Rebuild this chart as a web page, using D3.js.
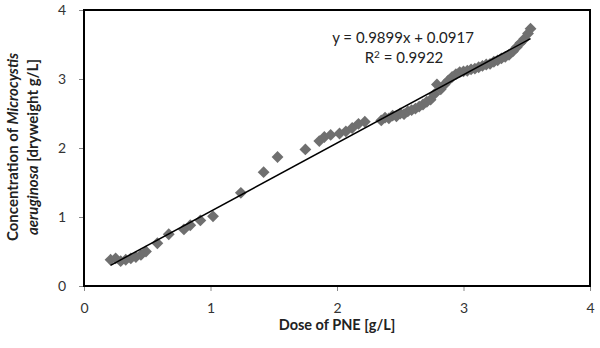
<!DOCTYPE html>
<html>
<head>
<meta charset="utf-8">
<script src="https://cdn.jsdelivr.net/npm/d3@7"></script>
<style>
  html, body { margin: 0; padding: 0; background: #fff; }
  svg { display: block; font-family: Lato, "Open Sans", sans-serif; }
</style>
</head>
<body>
<svg id="chart" width="600" height="348"></svg>
<script>
// Data
const doseX = [
  0.21, 0.25, 0.29, 0.33, 0.37, 0.41, 0.45, 0.49, 0.58, 0.67,
  0.79, 0.84, 0.92, 1.02, 1.24, 1.42, 1.53, 1.75, 1.86, 1.90,
  1.95, 2.02, 2.07, 2.12, 2.17, 2.22,
  2.35, 2.38, 2.41, 2.44, 2.47, 2.50, 2.53, 2.56, 2.59, 2.62,
  2.65, 2.68, 2.71, 2.74, 2.77, 2.79, 2.82, 2.85, 2.88, 2.91,
  2.94, 2.97, 3.00, 3.03, 3.06, 3.09, 3.12, 3.15, 3.18, 3.21,
  3.24, 3.27, 3.30, 3.33, 3.36, 3.39, 3.42, 3.45, 3.48, 3.51, 3.53
];
const concY = [
  0.38, 0.40, 0.36, 0.38, 0.40, 0.42, 0.45, 0.50, 0.62, 0.75,
  0.82, 0.88, 0.95, 1.01, 1.35, 1.65, 1.87, 1.98, 2.10, 2.16,
  2.19, 2.21, 2.24, 2.29, 2.35, 2.38,
  2.40, 2.44, 2.43, 2.47, 2.46, 2.50, 2.49, 2.53, 2.55, 2.57,
  2.60, 2.63, 2.67, 2.70, 2.78, 2.92, 2.85, 2.92, 2.98, 3.03,
  3.07, 3.10, 3.11, 3.12, 3.14, 3.15, 3.17, 3.19, 3.21, 3.22,
  3.25, 3.27, 3.30, 3.32, 3.35, 3.40, 3.46, 3.52, 3.58, 3.66, 3.73
];
const xTicks = [0, 1, 2, 3, 4];
const yTicks = [0, 1, 2, 3, 4];
const slope = 0.9899;
const intercept = 0.0917;
const equationText = "y = 0.9899x + 0.0917";
const r2Value = "0.9922";
const xTitle = "Dose of PNE [g/L]";

const svg = d3.select("#chart");
const L = 84, R = 590, T = 10, B = 286;
const x = d3.scaleLinear().domain([0, 4]).range([L, R]);
const y = d3.scaleLinear().domain([0, 4]).range([B, T]);

// axes (ticks only)
const xAxis = svg.append("g").attr("transform", `translate(0,${B})`)
  .call(d3.axisBottom(x).tickValues(xTicks).tickSize(5).tickPadding(12).tickFormat(d3.format("d")));
const yAxis = svg.append("g").attr("transform", `translate(${L},0)`)
  .call(d3.axisLeft(y).tickValues(yTicks).tickSize(5).tickPadding(13).tickFormat(d3.format("d")));
[xAxis, yAxis].forEach(a => {
  a.select(".domain").remove();
  a.selectAll(".tick line").attr("stroke", "#888");
  a.selectAll(".tick text").attr("fill", "#333").style("font-size", "14px").style("font-family", "Lato, sans-serif");
});

// points (rotated squares = Excel diamonds)
const pts = doseX.map((d, i) => [d, concY[i]]);
const sym = d3.symbol().type(d3.symbolSquare).size(70);
svg.append("g").selectAll("path").data(pts).join("path")
  .attr("d", sym)
  .attr("transform", d => `translate(${x(d[0])},${y(d[1])}) rotate(45)`)
  .attr("fill", "#6f6f6f");

// trendline
const xmin = d3.min(doseX), xmax = d3.max(doseX);
svg.append("line")
  .attr("x1", x(xmin)).attr("y1", y(slope * xmin + intercept))
  .attr("x2", x(xmax)).attr("y2", y(slope * xmax + intercept))
  .attr("stroke", "#000").attr("stroke-width", 1.5);

// frame
svg.append("rect").attr("x", L).attr("y", T).attr("width", R - L).attr("height", B - T)
  .attr("fill", "none").attr("stroke", "#000").attr("stroke-width", 2);

// equation
svg.append("text").attr("x", 403).attr("y", 43).attr("text-anchor", "middle")
  .style("font-size", "15px").attr("fill", "#222").text(equationText);
const r2 = svg.append("text").attr("x", 404).attr("y", 63).attr("text-anchor", "middle")
  .style("font-size", "15px").attr("fill", "#222");
r2.append("tspan").text("R");
r2.append("tspan").attr("dy", -5).style("font-size", "10px").text("2");
r2.append("tspan").attr("dy", 5).text(" = " + r2Value);

// x title
svg.append("text").attr("x", 337).attr("y", 330).attr("text-anchor", "middle")
  .style("font-size", "14.5px").style("font-weight", "bold").attr("fill", "#222").text(xTitle);

// y title (two lines, with italic species name)
const yt = svg.append("g").attr("transform", "translate(0,147) rotate(-90)");
const l1 = yt.append("text").attr("x", 0).attr("y", 18).attr("text-anchor", "middle")
  .style("font-size", "15px").style("font-weight", "bold").attr("fill", "#222");
l1.append("tspan").text("Concentration of ");
l1.append("tspan").style("font-style", "italic").text("Microcystis");
const l2 = yt.append("text").attr("x", 0).attr("y", 38).attr("text-anchor", "middle")
  .style("font-size", "15px").style("font-weight", "bold").attr("fill", "#222");
l2.append("tspan").style("font-style", "italic").text("aeruginosa");
l2.append("tspan").text(" [dryweight g/L]");
</script>
</body>
</html>
